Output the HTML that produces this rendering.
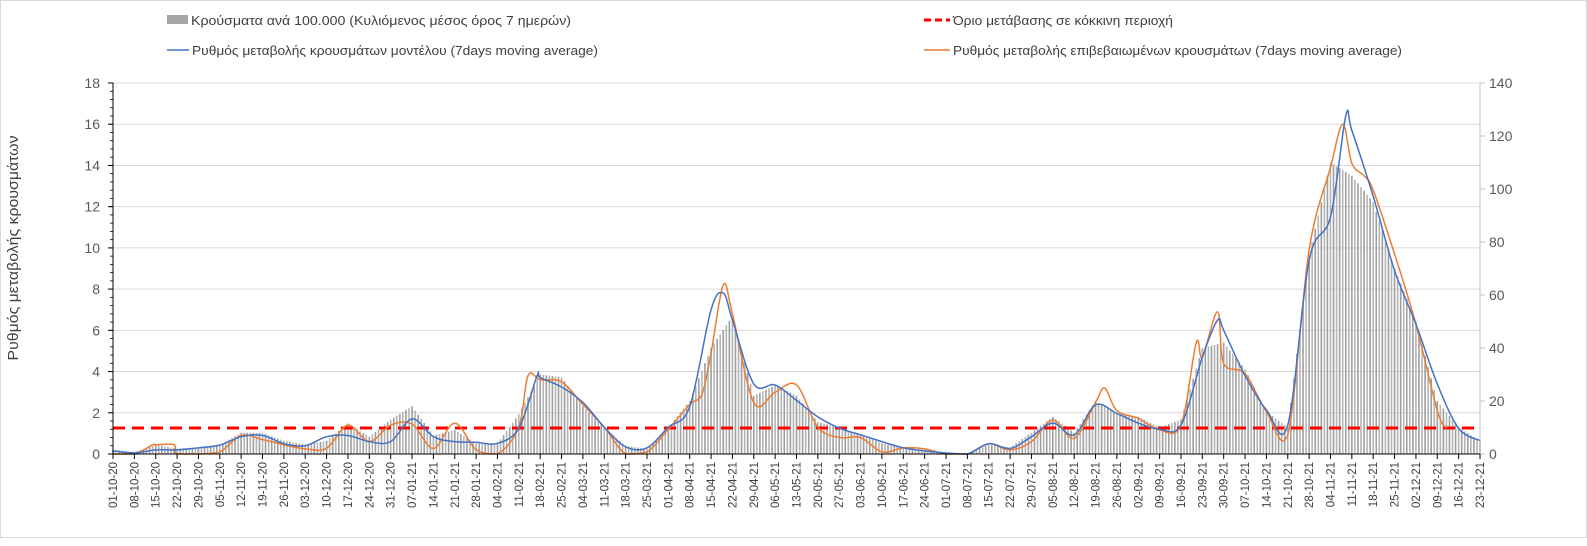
<!DOCTYPE html>
<html><head><meta charset="utf-8"><style>
html,body{margin:0;padding:0;background:#fff;}
svg{display:block;font-family:"Liberation Sans",sans-serif;}
</style></head><body>
<svg id="chart" width="1587" height="546" viewBox="0 0 1587 546" xmlns="http://www.w3.org/2000/svg">
<rect x="0.5" y="0.5" width="1586" height="537" fill="#fff" stroke="#d9d9d9"/>
<g id="legend">
  <g>
    <rect x="167" y="15" width="21" height="9" fill="#a5a5a5"/>
    <text x="191" y="25" font-size="13" fill="#404040" textLength="380" lengthAdjust="spacingAndGlyphs">Κρούσματα ανά 100.000 (Κυλιόμενος μέσος όρος 7 ημερών)</text>
  </g>
  <g>
    <line x1="924" y1="20" x2="950" y2="20" stroke="#ff0000" stroke-width="3" stroke-dasharray="7,4"/>
    <text x="953" y="25" font-size="13" fill="#404040" textLength="220" lengthAdjust="spacingAndGlyphs">Όριο μετάβασης σε κόκκινη περιοχή</text>
  </g>
  <g>
    <line x1="167" y1="50" x2="189" y2="50" stroke="#4472c4" stroke-width="1.5"/>
    <text x="192" y="55" font-size="13" fill="#404040" textLength="406" lengthAdjust="spacingAndGlyphs">Ρυθμός μεταβολής κρουσμάτων μοντέλου (7days moving average)</text>
  </g>
  <g>
    <line x1="924" y1="50" x2="950" y2="50" stroke="#ed7d31" stroke-width="1.5"/>
    <text x="953" y="55" font-size="13" fill="#404040" textLength="449" lengthAdjust="spacingAndGlyphs">Ρυθμός μεταβολής επιβεβαιωμένων κρουσμάτων (7days moving average)</text>
  </g>
</g>
<text transform="translate(18,248) rotate(-90)" text-anchor="middle" font-size="15" fill="#404040" textLength="225" lengthAdjust="spacingAndGlyphs">Ρυθμός μεταβολής κρουσμάτων</text>
<g id="grid"></g><g id="bars"></g><g id="lines"></g><g id="axes"></g>
</svg>
<script>
// weekly x categories start at 01-10-2020, 65 weekly labels
const startDate = [2020, 10, 1];
const weekCount = 65;
// bars: cases per 100k, weekly readings (right axis)
const barValues = [1.5,0.8,3.5,2.0,2.5,3.5,8,8,5,3.5,5,11.5,6.5,13,18,7,9,4,4,15,30,29,18,10,3,2,10,20,40,52,22,26,22,12,10,7,4,2.5,1.5,0.5,0.3,3.5,2.5,8,14,8,20,15,14,10,13,40,42,32,16,10,75,110,105,95,70,50,20,10,5];
// model line: day offsets and values (left axis)
const blueDays = [0,7,14,21,28,35,42,49,56,63,70,77,84,91,98,105,112,119,126,133,139,140,147,154,161,168,175,182,189,196,200,203,210,217,224,231,238,245,252,259,266,273,280,287,294,301,308,315,322,329,336,343,350,357,362,364,371,378,385,392,399,404,406,413,420,427,434,441,448];
const blueVals = [0.16,0.05,0.2,0.2,0.3,0.43,0.84,0.9,0.5,0.4,0.84,0.9,0.6,0.6,1.7,0.84,0.6,0.57,0.52,1.25,3.8,3.7,3.25,2.5,1.3,0.35,0.3,1.3,2.3,7.0,7.8,6.5,3.4,3.35,2.6,1.8,1.26,0.93,0.6,0.3,0.15,0.05,0,0.5,0.27,0.84,1.5,0.92,2.38,1.97,1.5,1.2,1.4,4.7,6.5,6.0,3.8,2.14,1.4,9.4,11.5,16.4,15.7,12.5,8.9,6.3,3.4,1.25,0.65];
// confirmed line: day offsets and values (left axis)
const orangeDays = [0,7,13,14,20,21,28,35,42,49,56,63,70,77,84,91,98,105,112,119,126,133,136,140,147,154,161,168,175,182,189,193,196,200,203,210,217,224,231,238,245,252,259,266,273,280,287,294,301,308,315,322,325,329,336,343,350,355,357,362,364,371,378,385,392,399,403,406,410,413,420,427,434,437];
const orangeVals = [0,0,0.45,0.45,0.45,0,0,0.1,0.9,0.7,0.45,0.25,0.28,1.4,0.6,1.4,1.45,0.27,1.5,0.2,0,1.3,3.8,3.6,3.5,2.4,1.3,0,0.1,1.2,2.4,2.9,4.9,8.2,6.8,2.5,3.0,3.35,1.3,0.8,0.8,0.1,0.3,0.25,0,0,0.5,0.2,0.6,1.65,0.76,2.5,3.2,2.1,1.73,1.17,1.4,5.4,4.7,6.9,4.4,3.9,2.05,0.92,9.9,13.9,16.0,14.1,13.5,12.8,9.7,6.3,2.1,1.25];
// threshold (left axis)
const thresholdValue = 1.26;
const leftTicks = [0,2,4,6,8,10,12,14,16,18];
const rightTicks = [0,20,40,60,80,100,120,140];

const NS = "http://www.w3.org/2000/svg";
const X0 = 113, X1 = 1480, Y0 = 454, Y1 = 83, totalDays = 448;
const xDay = d => X0 + d * (X1 - X0) / totalDays;
const yL = v => Y0 - v * (Y0 - Y1) / 18;
const yR = v => Y0 - v * (Y0 - Y1) / 140;
function mk(tag, attrs, parent) { const e = document.createElementNS(NS, tag); for (const k in attrs) e.setAttribute(k, attrs[k]); parent.appendChild(e); return e; }
const grid = document.getElementById('grid'), bars = document.getElementById('bars'), lines = document.getElementById('lines'), axes = document.getElementById('axes');

leftTicks.forEach(t => {
  if (t > 0) {
    const g = mk('line', {x1: X0, x2: X1, y1: yL(t), y2: yL(t), stroke: '#d9d9d9', 'stroke-width': 1}, grid);
    
    
  }
  const lab = mk('text', {x: 100, y: yL(t) + 5, 'text-anchor': 'end', 'font-size': 14, fill: '#595959'}, axes);
  lab.textContent = t;
  
  
  mk('line', {x1: X0 - 5, x2: X0, y1: yL(t), y2: yL(t), stroke: '#000'}, axes);
});
for (let v = 0.4; v < 18; v += 0.4) mk('line', {x1: X0 - 3, x2: X0, y1: yL(v), y2: yL(v), stroke: '#000', 'stroke-width': 0.8}, axes);
rightTicks.forEach(t => {
  const lab = mk('text', {x: 1489, y: yR(t) + 5, 'font-size': 14, fill: '#595959'}, axes);
  lab.textContent = t;
  
  
  mk('line', {x1: X1, x2: X1 + 5, y1: yR(t), y2: yR(t), stroke: '#bfbfbf'}, axes);
});
mk('line', {x1: X0, x2: X0, y1: Y1, y2: Y0, stroke: '#000'}, axes);
mk('line', {x1: X1, x2: X1, y1: Y1, y2: Y0, stroke: '#bfbfbf'}, axes);
mk('line', {x1: X0, x2: X1, y1: Y0, y2: Y0, stroke: '#000'}, axes);

// bars daily
for (let d = 0; d <= totalDays; d++) {
  const w = d / 7, i = Math.floor(w), f = w - i;
  const v = i >= weekCount - 1 ? barValues[weekCount - 1] : barValues[i] * (1 - f) + barValues[i + 1] * f;
  const b = mk('rect', {x: xDay(d) - 0.8, y: yR(v), width: 1.6, height: Y0 - yR(v), fill: d % 2 ? '#b4b4b4' : '#9e9e9e'}, bars);
  
  
}
// x labels
const sd = new Date(startDate[0], startDate[1] - 1, startDate[2]);
for (let i = 0; i < weekCount; i++) {
  const dt = new Date(sd.getTime() + i * 7 * 86400000);
  const s = String(dt.getDate()).padStart(2, '0') + '-' + String(dt.getMonth() + 1).padStart(2, '0') + '-' + String(dt.getFullYear() % 100).padStart(2, '0');
  const x = xDay(i * 7);
  mk('line', {x1: x, x2: x, y1: Y0, y2: Y0 + 5, stroke: '#000'}, axes);
  const t = mk('text', {transform: `translate(${x + 4},${Y0 + 8}) rotate(-90)`, 'text-anchor': 'end', 'font-size': 11.5, fill: '#404040'}, axes);
  t.textContent = s;
  
  
}
// threshold line
const th = mk('line', {x1: X0, x2: X1, y1: yL(thresholdValue), y2: yL(thresholdValue), stroke: '#ff0000', 'stroke-width': 3, 'stroke-dasharray': '12,7'}, lines);


function smoothPath(days, vals) {
  const p = days.map((d, i) => [xDay(d), yL(vals[i])]);
  let s = `M${p[0][0]},${p[0][1]}`;
  for (let i = 0; i < p.length - 1; i++) {
    const a = p[Math.max(0, i - 1)], b = p[i], c = p[i + 1], e = p[Math.min(p.length - 1, i + 2)];
    const c1 = [b[0] + (c[0] - a[0]) / 6, b[1] + (c[1] - a[1]) / 6], c2 = [c[0] - (e[0] - b[0]) / 6, c[1] - (e[1] - b[1]) / 6];
    s += ` C${c1[0]},${Math.min(Y0, c1[1])} ${c2[0]},${Math.min(Y0, c2[1])} ${c[0]},${c[1]}`;
  }
  return s;
}
const ol = mk('path', {d: smoothPath(orangeDays, orangeVals), fill: 'none', stroke: '#ed7d31', 'stroke-width': 1.5}, lines);


const bl = mk('path', {d: smoothPath(blueDays, blueVals), fill: 'none', stroke: '#4472c4', 'stroke-width': 1.5}, lines);


</script>
</body></html>
